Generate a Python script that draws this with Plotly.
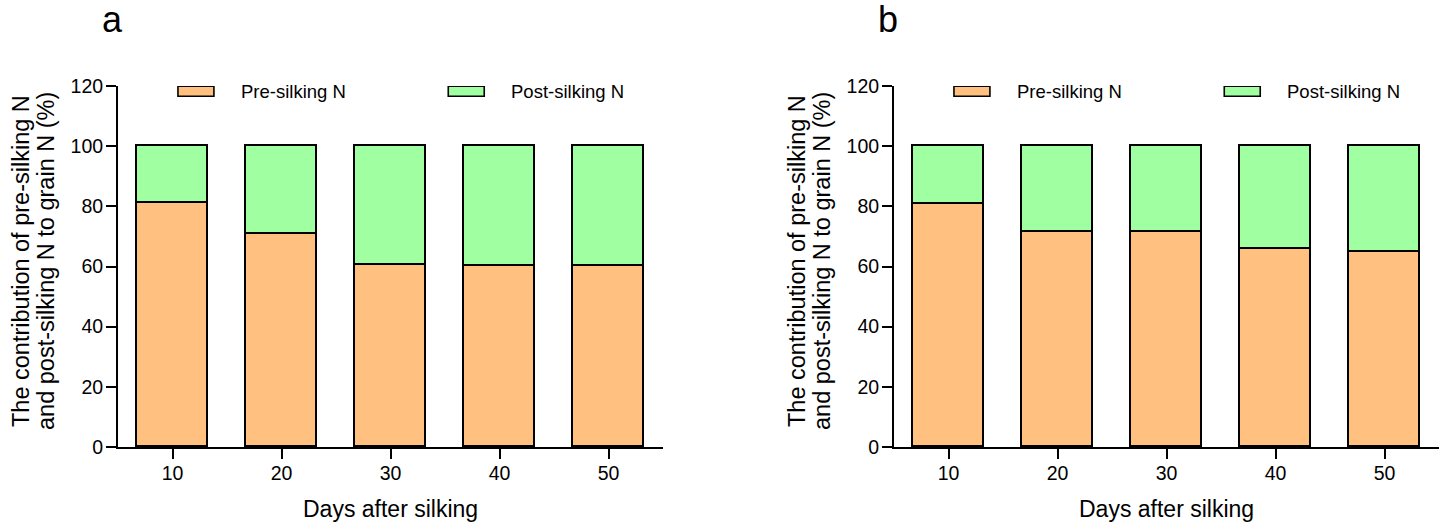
import plotly.graph_objects as go
from plotly.subplots import make_subplots

days = [10, 20, 30, 40, 50]
a_pre = [81.1, 70.7, 60.4, 60.2, 60.2]
a_post = [18.9, 29.3, 39.6, 39.8, 39.8]
b_pre = [80.9, 71.4, 71.4, 65.8, 64.8]
b_post = [19.1, 28.6, 28.6, 34.2, 35.2]
series_names = ["Pre-silking N", "Post-silking N"]
panel_labels = ["a", "b"]
y_ticks = [0, 20, 40, 60, 80, 100, 120]

ORANGE = "#FFC080"
GREEN = "#A0FFA0"
FONT = "Liberation Sans, Arial, sans-serif"

W, H = 1443, 523
ML, MR, MT, MB = 118, 4, 86, 76
PW = W - ML - MR
PH = H - MT - MB


def px_x(p):
    return (p - ML) / PW


def px_y(p):
    return (H - MB - p) / PH


fig = make_subplots(rows=1, cols=2)

for col, (pre, post) in enumerate([(a_pre, a_post), (b_pre, b_post)], start=1):
    fig.add_trace(go.Bar(x=days, y=pre, name=series_names[0], width=6.6,
                         marker=dict(color=ORANGE, line=dict(color="black", width=1.6)),
                         showlegend=False), row=1, col=col)
    fig.add_trace(go.Bar(x=days, y=post, name=series_names[1], width=6.6,
                         marker=dict(color=GREEN, line=dict(color="black", width=1.6)),
                         showlegend=False), row=1, col=col)

axis_common = dict(showline=True, linecolor="black", linewidth=2, ticks="outside",
                   ticklen=10, tickwidth=2, tickcolor="black", showgrid=False,
                   zeroline=False, tickfont=dict(family=FONT, size=19.5, color="black"))

fig.update_xaxes(range=[5, 55], tickvals=days, ticktext=[str(d) for d in days],
                 ticklabelstandoff=-2, **axis_common)
fig.update_yaxes(range=[0, 120], tickvals=y_ticks, ticklabelstandoff=-1, **axis_common)

fig.update_layout(xaxis=dict(domain=[0, px_x(663)]),
                  xaxis2=dict(domain=[px_x(894), 1]))

shapes = []
annotations = []
axis_left_px = [118, 894]
for i, ax in enumerate(["x", "x2"]):
    yax = "y" if i == 0 else "y2"
    # legend boxes
    for (x0, x1, tx, color, name) in [(0.110, 0.176, 0.222, ORANGE, series_names[0]),
                                      (0.606, 0.672, 0.717, GREEN, series_names[1])]:
        shapes.append(dict(type="rect", xref=f"{ax} domain", yref=yax,
                           x0=x0, x1=x1, y0=116.6, y1=119.9,
                           fillcolor=color, line=dict(color="black", width=1.6)))
        annotations.append(dict(xref=f"{ax} domain", yref=yax, x=tx, y=118.3,
                                xanchor="left", yanchor="middle", showarrow=False,
                                text=name, font=dict(family=FONT, size=18.5, color="black")))
    left = axis_left_px[i]
    right = 663 if i == 0 else 1439
    # y titles
    annotations.append(dict(xref="paper", yref="paper", x=px_x(left - 97), y=px_y(261),
                            xanchor="center", yanchor="middle", showarrow=False, textangle=-90,
                            text="The contribution of pre-silking N",
                            font=dict(family=FONT, size=23.5, color="black")))
    annotations.append(dict(xref="paper", yref="paper", x=px_x(left - 72), y=px_y(261),
                            xanchor="center", yanchor="middle", showarrow=False, textangle=-90,
                            text="and post-silking N to grain N (%)",
                            font=dict(family=FONT, size=23.5, color="black")))
    # x title
    annotations.append(dict(xref="paper", yref="paper", x=px_x((left + right) / 2), y=px_y(509),
                            xanchor="center", yanchor="middle", showarrow=False,
                            text="Days after silking",
                            font=dict(family=FONT, size=23, color="black")))
    # panel letter
    annotations.append(dict(xref="paper", yref="paper", x=px_x(left - 6), y=px_y(19),
                            xanchor="center", yanchor="middle", showarrow=False,
                            text=panel_labels[i],
                            font=dict(family=FONT, size=36, color="black")))

fig.update_layout(width=W, height=H, margin=dict(l=ML, r=MR, t=MT, b=MB),
                  barmode="stack", bargap=0, plot_bgcolor="white", paper_bgcolor="white",
                  shapes=shapes, annotations=annotations, showlegend=False,
                  font=dict(family=FONT, color="black"))

fig.write_html("out.html")
